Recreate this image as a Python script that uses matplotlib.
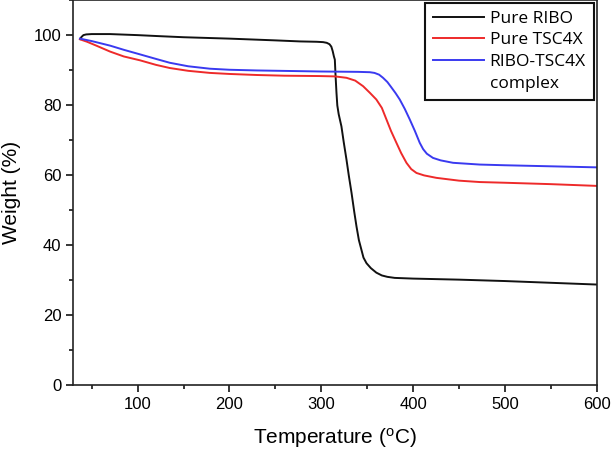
import matplotlib
matplotlib.use("Agg")
import matplotlib.pyplot as plt
from matplotlib.lines import Line2D
from matplotlib.ticker import MultipleLocator

# TGA curves
ribo_temp = [37.3, 39, 41, 44, 50, 70, 100, 124, 150, 200, 250, 277, 295, 302, 306, 309,
             311, 312.5, 313.8, 314.8, 315.5, 316.6, 317.5, 319, 322, 324.5, 327.5, 330,
             333, 336, 338.4, 341, 343.8, 346, 349.3, 354, 360, 366, 372, 380, 400, 450,
             500, 550, 600]
ribo_weight = [99.0, 99.6, 100.1, 100.3, 100.4, 100.4, 100.1, 99.8, 99.5, 99.1, 98.6, 98.3,
               98.2, 98.1, 97.9, 97.5, 96.8, 95.5, 94.0, 93.1, 89.0, 83.6, 80.0, 77.5, 74.0,
               69.5, 64.5, 60.0, 55.0, 49.5, 45.4, 41.5, 38.7, 36.5, 34.9, 33.5, 32.2, 31.4,
               31.0, 30.7, 30.5, 30.2, 29.8, 29.3, 28.8]

tsc_temp = [37.3, 45, 55, 70, 85, 102.6, 120, 135, 155, 178.7, 200, 230, 260, 298, 315,
            327.5, 337, 345.6, 353, 360, 366, 371, 376, 381.9, 387, 392.8, 398, 403.7, 412,
            425.4, 450, 472.6, 500, 550, 600]
tsc_weight = [98.9, 98.2, 97.1, 95.4, 94.0, 92.9, 91.6, 90.7, 89.9, 89.3, 89.0, 88.7, 88.5,
              88.4, 88.3, 87.9, 87.1, 85.5, 83.6, 81.7, 79.3, 76.0, 72.7, 69.3, 66.4, 63.6,
              61.8, 60.7, 60.0, 59.3, 58.5, 58.1, 57.9, 57.5, 57.0]

cplx_temp = [37.3, 50, 70, 85, 102.6, 120, 135, 155, 178.7, 200, 230, 277, 300, 340, 352.9,
             358, 363, 367.3, 372, 376, 381, 385.5, 391, 396.4, 402, 407.3, 411, 415, 421.7,
             430, 443.5, 472.6, 500, 550, 600]
cplx_weight = [99.1, 98.4, 97.1, 95.9, 94.6, 93.3, 92.2, 91.2, 90.5, 90.2, 90.0, 89.8, 89.7,
               89.6, 89.5, 89.3, 88.8, 87.9, 86.7, 85.3, 83.5, 81.7, 79.0, 76.0, 72.7, 69.3,
               67.5, 66.2, 65.0, 64.3, 63.6, 63.1, 62.9, 62.6, 62.3]

series_labels = ["Pure RIBO", "Pure TSC4X", "RIBO-TSC4X"]
label_extra = "complex"
series_colors = ["#111111", "#ee2a2a", "#3a3af0"]

plt.rcParams["font.family"] = ["Liberation Sans", "DejaVu Sans"]
plt.rcParams["mathtext.fontset"] = "custom"
plt.rcParams["mathtext.rm"] = "Liberation Sans"

fig = plt.figure(figsize=(6.11, 4.49), dpi=100)
ax = fig.add_axes([0.12, 0.1419, 0.8566, 0.857])

handles = []
for t, w, lab, col in zip([ribo_temp, tsc_temp, cplx_temp],
                          [ribo_weight, tsc_weight, cplx_weight],
                          series_labels, series_colors):
    h, = ax.plot(t, w, color=col, linewidth=1.4, label=lab)
    handles.append(h)

ax.set_xlim(30, 600)
ax.set_ylim(0, 110)
ax.xaxis.set_major_locator(MultipleLocator(100))
ax.xaxis.set_minor_locator(MultipleLocator(50))
ax.yaxis.set_major_locator(MultipleLocator(20))
ax.yaxis.set_minor_locator(MultipleLocator(10))
ax.tick_params(which="both", direction="out", width=1.1, labelsize=12, top=False, right=False)
ax.tick_params(which="major", length=5)
ax.tick_params(which="minor", length=3)
for sp in ax.spines.values():
    sp.set_linewidth(1.2)
    sp.set_color("#222222")

ax.set_xlabel("Temperature ($\\mathregular{^{o}}$C)", fontsize=15, labelpad=10)
ax.set_ylabel("Weight (%)", fontsize=15, labelpad=9)

# second line of the complex label sits on its own row, as in the original
blank = Line2D([], [], color="none")
leg = ax.legend(handles + [blank], series_labels + [label_extra],
                loc="upper right", bbox_to_anchor=(0.994, 0.994), borderaxespad=0,
                fancybox=False, edgecolor="#111111", framealpha=1,
                prop={"family": "Open Sans", "size": 12.5},
                handlelength=2.9, handletextpad=0.35, labelspacing=0.32, borderpad=0.45)
leg.get_frame().set_linewidth(1.5)

fig.savefig("out.png", dpi=100)
